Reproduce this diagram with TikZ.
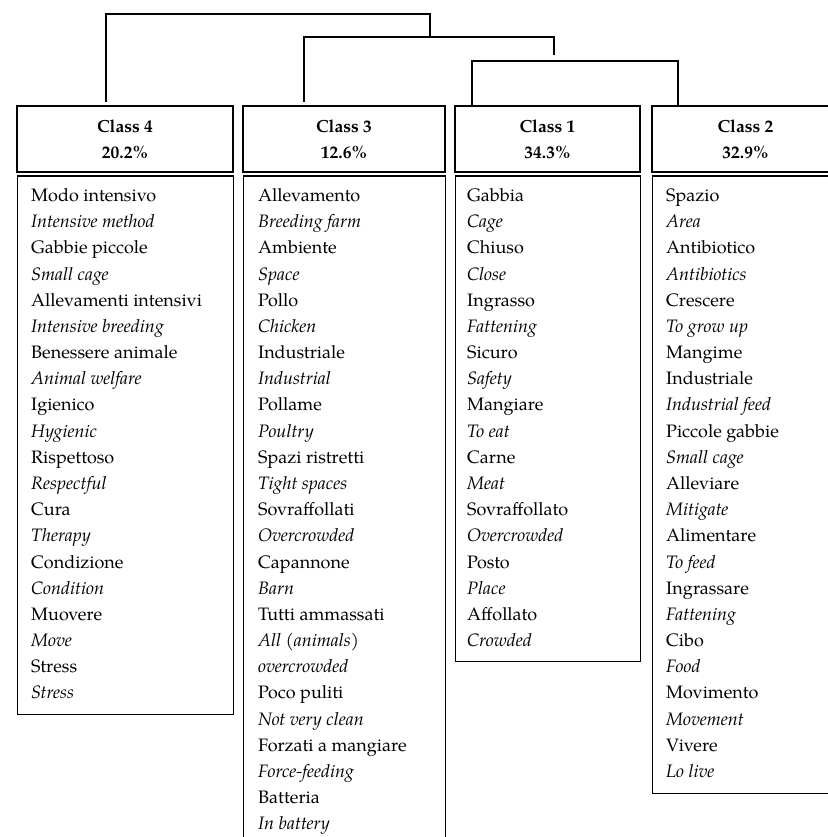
\documentclass[tikz,border=0pt]{standalone}
\usepackage{fontspec}
\setmainfont{TeX Gyre Pagella}
\usepackage{tikz}

\tikzset{
  word/.style={anchor=base west, inner sep=0pt, font=\fontsize{18}{22}\fontshape{#1}\selectfont},
  head/.style={draw, line width=1.3pt, minimum height=66pt, align=center, inner sep=0pt,
               font=\bfseries\fontsize{17.5}{26}\selectfont},
  panel/.style={draw, line width=1.3pt, anchor=north west, inner sep=0pt},
  tree/.style={line width=1.5pt}
}

\begin{document}
\begin{tikzpicture}[x=1pt, y=-1pt]
\useasboundingbox (0,0) rectangle (827,837);

% class headers
\node (h4) at (125,139) [head, minimum width=216pt] {Class 4\\20.2\%};
\node (h3) at (344,139) [head, minimum width=202pt] {Class 3\\12.6\%};
\node (h1) at (547.5,139) [head, minimum width=185pt] {Class 1\\34.3\%};
\node (h2) at (745.5,139) [head, minimum width=187pt] {Class 2\\32.9\%};

% word panels
\node (b4) at (17,175.5) [panel, minimum width=216pt, minimum height=538.5pt] {};
\node (b3) at (243,175.5) [panel, minimum width=202pt, minimum height=684.5pt] {};
\node (b1) at (455,175.5) [panel, minimum width=185pt, minimum height=485.5pt] {};
\node (b2) at (652,175.5) [panel, minimum width=187pt, minimum height=617.5pt] {};

\foreach \txt/\sty [count=\i] in {Modo intensivo/n, Intensive method/it, Gabbie piccole/n, Small cage/it,
    Allevamenti intensivi/n, Intensive breeding/it, Benessere animale/n, Animal welfare/it,
    Igienico/n, Hygienic/it, Rispettoso/n, Respectful/it, Cura/n, Therapy/it,
    Condizione/n, Condition/it, Muovere/n, Move/it, Stress/n, Stress/it} {
  \node (c4-\i) at (31,{201.5+(\i-1)*26.18}) [word=\sty] {\txt};
}

\foreach \txt/\sty [count=\i] in {Allevamento/n, Breeding farm/it, Ambiente/n, Space/it, Pollo/n, Chicken/it,
    Industriale/n, Industrial/it, Pollame/n, Poultry/it, Spazi ristretti/n, Tight spaces/it,
    Sovraffollati/n, Overcrowded/it, Capannone/n, Barn/it, Tutti ammassati/n, {All (animals)}/it,
    overcrowded/it, Poco puliti/n, Not very clean/it, Forzati a mangiare/n, Force-feeding/it,
    Batteria/n, In battery/it} {
  \node (c3-\i) at (258,{201.5+(\i-1)*26.18}) [word=\sty] {\txt};
}

\foreach \txt/\sty [count=\i] in {Gabbia/n, Cage/it, Chiuso/n, Close/it, Ingrasso/n, Fattening/it,
    Sicuro/n, Safety/it, Mangiare/n, To eat/it, Carne/n, Meat/it, Sovraffollato/n, Overcrowded/it,
    Posto/n, Place/it, Affollato/n, Crowded/it} {
  \node (c1-\i) at (467,{201.5+(\i-1)*26.18}) [word=\sty] {\txt};
}

\foreach \txt/\sty [count=\i] in {Spazio/n, Area/it, Antibiotico/n, Antibiotics/it, Crescere/n, To grow up/it,
    Mangime/n, Industriale/n, Industrial feed/it, Piccole gabbie/n, Small cage/it, Alleviare/n, Mitigate/it,
    Alimentare/n, To feed/it, Ingrassare/n, Fattening/it, Cibo/n, Food/it, Movimento/n, Movement/it,
    Vivere/n, Lo live/it} {
  \node (c2-\i) at (666,{201.5+(\i-1)*26.18}) [word=\sty] {\txt};
}

% dendrogram
\coordinate (root) at (430,14);
\coordinate (m3) at (430,37);
\coordinate (s12) at (554,55);
\coordinate (m12) at (575,61);
\coordinate (f4) at (106,102);
\coordinate (f3) at (304,102);
\coordinate (f1) at (472,106);
\coordinate (f2) at (678,106);

\draw[tree] (f4) |- (root) -- (m3);
\draw[tree] (f3) |- (m3) -| (s12);
\draw[tree] (f1) |- (m12) -| (f2);
\end{tikzpicture}
\end{document}
